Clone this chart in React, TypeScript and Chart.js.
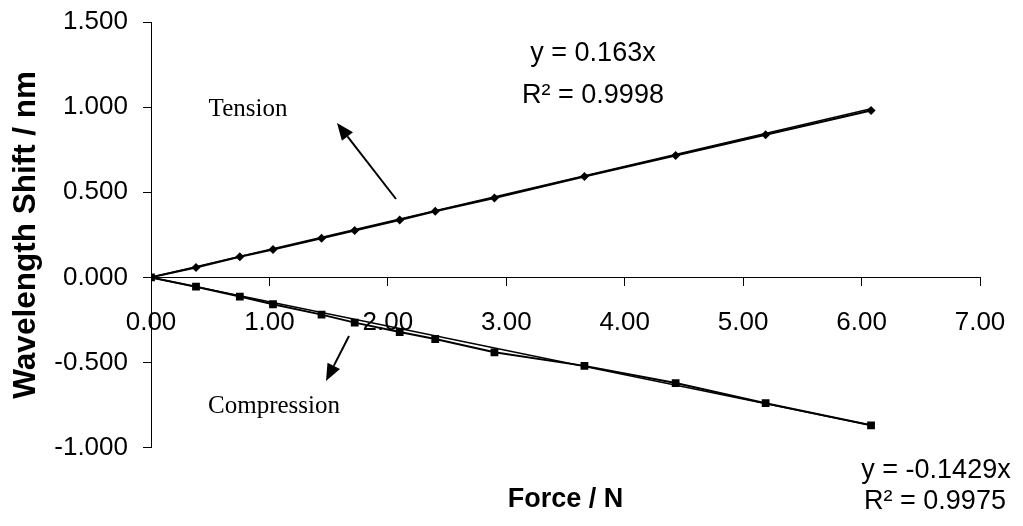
import React, { useEffect, useRef } from "react";
import { Chart, registerables } from "chart.js";

Chart.register(...registerables);

// Force (N) at which each wavelength shift was measured
const forceN = [0, 0.38, 0.75, 1.03, 1.44, 1.72, 2.1, 2.4, 2.9, 3.66, 4.43, 5.19, 6.08];
// Wavelength shift (nm) under tension
const tensionShift = [0, 0.058, 0.121, 0.163, 0.23, 0.275, 0.337, 0.388, 0.466, 0.593, 0.716, 0.838, 0.98];
// Wavelength shift (nm) under compression
const compressionShift = [0, -0.055, -0.113, -0.158, -0.219, -0.266, -0.321, -0.362, -0.44, -0.52, -0.621, -0.739, -0.869];
// Linear trendline end points (through origin)
const trendForce = [0, 6.08];
const tensionTrend = [0, 0.991];
const compressionTrend = [0, -0.869];
// Axis ticks
const xTicks = [0, 1, 2, 3, 4, 5, 6, 7];
const yTicks = [-1, -0.5, 0, 0.5, 1, 1.5];
// Labels
const xTitle = "Force / N";
const yTitle = "Wavelength Shift / nm";
const tensionLabel = "Tension";
const compressionLabel = "Compression";
const tensionEq = ["y = 0.163x", "R\u00B2 = 0.9998"];
const compressionEq = ["y = -0.1429x", "R\u00B2 = 0.9975"];

function drawArrow(ctx: CanvasRenderingContext2D, x1: number, y1: number, x2: number, y2: number) {
  const ang = Math.atan2(y2 - y1, x2 - x1);
  const headLen = 17;
  const headHalf = 7;
  const bx = x2 - headLen * Math.cos(ang);
  const by = y2 - headLen * Math.sin(ang);
  ctx.beginPath();
  ctx.moveTo(x1, y1);
  ctx.lineTo(bx, by);
  ctx.lineWidth = 2;
  ctx.strokeStyle = "#000";
  ctx.stroke();
  ctx.beginPath();
  ctx.moveTo(x2, y2);
  ctx.lineTo(bx + headHalf * Math.sin(ang), by - headHalf * Math.cos(ang));
  ctx.lineTo(bx - headHalf * Math.sin(ang), by + headHalf * Math.cos(ang));
  ctx.closePath();
  ctx.fillStyle = "#000";
  ctx.fill();
}

const annotationPlugin = {
  id: "annotations",
  afterDraw(chart: any) {
    const ctx: CanvasRenderingContext2D = chart.ctx;
    ctx.save();
    ctx.fillStyle = "#000";
    ctx.textAlign = "center";
    ctx.textBaseline = "middle";
    ctx.font = '25px "Liberation Serif"';
    ctx.fillText(tensionLabel, 248, 109);
    ctx.fillText(compressionLabel, 274, 406);
    drawArrow(ctx, 396, 199, 337, 123);
    drawArrow(ctx, 349, 336, 326, 381);
    ctx.fillStyle = "#000";
    ctx.font = '27px "Liberation Sans"';
    ctx.fillText(tensionEq[0], 593, 54);
    ctx.fillText(tensionEq[1], 593, 96);
    ctx.fillText(compressionEq[0], 936, 471);
    ctx.fillText(compressionEq[1], 935, 502);
    ctx.restore();
  },
};

export default function App() {
  const ref = useRef<HTMLCanvasElement>(null);

  useEffect(() => {
    if (!ref.current) return;
    const pts = (ys: number[], xs: number[]) => xs.map((x, i) => ({ x, y: ys[i] }));
    const tickFont = { family: '"Liberation Sans", Arial, sans-serif', size: 26 };
    const chart = new Chart(ref.current, {
      type: "scatter",
      data: {
        datasets: [
          {
            data: pts(tensionTrend, trendForce),
            showLine: true,
            borderColor: "#000",
            borderWidth: 1.5,
            pointRadius: 0,
          },
          {
            data: pts(compressionTrend, trendForce),
            showLine: true,
            borderColor: "#000",
            borderWidth: 1.5,
            pointRadius: 0,
          },
          {
            data: pts(tensionShift, forceN),
            showLine: true,
            borderColor: "#000",
            backgroundColor: "#000",
            borderWidth: 2,
            pointStyle: "rectRot",
            pointRadius: 4.5,
            pointBorderWidth: 0,
          },
          {
            data: pts(compressionShift, forceN),
            showLine: true,
            borderColor: "#000",
            backgroundColor: "#000",
            borderWidth: 2,
            pointStyle: "rect",
            pointRadius: 5.5,
            pointBorderWidth: 0,
          },
        ],
      },
      options: {
        animation: false,
        responsive: false,
        devicePixelRatio: 1,
        layout: { padding: { top: 22, right: 43, bottom: 0, left: 0 } },
        plugins: {
          legend: { display: false },
          tooltip: { enabled: false },
          title: {
            display: true,
            position: "bottom",
            fullSize: false,
            text: xTitle,
            color: "#000",
            font: { family: '"Liberation Sans", Arial, sans-serif', size: 27, weight: "bold" },
            padding: { top: 36, bottom: 10 },
          },
        },
        scales: {
          x: {
            type: "linear",
            position: { y: 0 } as any,
            min: 0,
            max: 7,
            afterBuildTicks: (s: any) => {
              s.ticks = xTicks.map((v) => ({ value: v }));
            },
            afterFit: (s: any) => {
              s.paddingLeft = 0;
              s.paddingRight = 0;
              s.paddingTop = 0;
              s.paddingBottom = 0;
            },
            ticks: {
              color: "#000",
              font: tickFont,
              padding: 22,
              maxRotation: 0,
              autoSkip: false,
              callback: (v: any) => Number(v).toFixed(2),
            },
            grid: { display: true, drawOnChartArea: false, drawTicks: true, tickLength: 8, color: "#000" },
            border: { display: true, color: "#000", width: 1 },
          },
          y: {
            type: "linear",
            position: "left",
            min: -1,
            max: 1.5,
            afterBuildTicks: (s: any) => {
              s.ticks = yTicks.map((v) => ({ value: v }));
            },
            afterFit: (s: any) => {
              s.width = 151;
              s.paddingLeft = 0;
              s.paddingRight = 0;
              s.paddingTop = 0;
              s.paddingBottom = 0;
            },
            ticks: {
              color: "#000",
              font: tickFont,
              padding: 15,
              autoSkip: false,
              callback: (v: any) => Number(v).toFixed(3),
            },
            grid: { display: true, drawOnChartArea: false, drawTicks: true, tickLength: 8, color: "#000" },
            border: { display: true, color: "#000", width: 1 },
            title: {
              display: true,
              text: yTitle,
              color: "#000",
              font: { family: '"Liberation Sans", Arial, sans-serif', size: 31.5, weight: "bold" },
              padding: { top: 7, bottom: 0 },
            },
          },
        },
      } as any,
      plugins: [annotationPlugin],
    });
    return () => chart.destroy();
  }, []);

  return (
    <div style={{ position: "fixed", left: 0, top: 0, width: 1023, height: 526, background: "#fff" }}>
      <canvas ref={ref} width={1023} height={526} style={{ display: "block" }} />
    </div>
  );
}
